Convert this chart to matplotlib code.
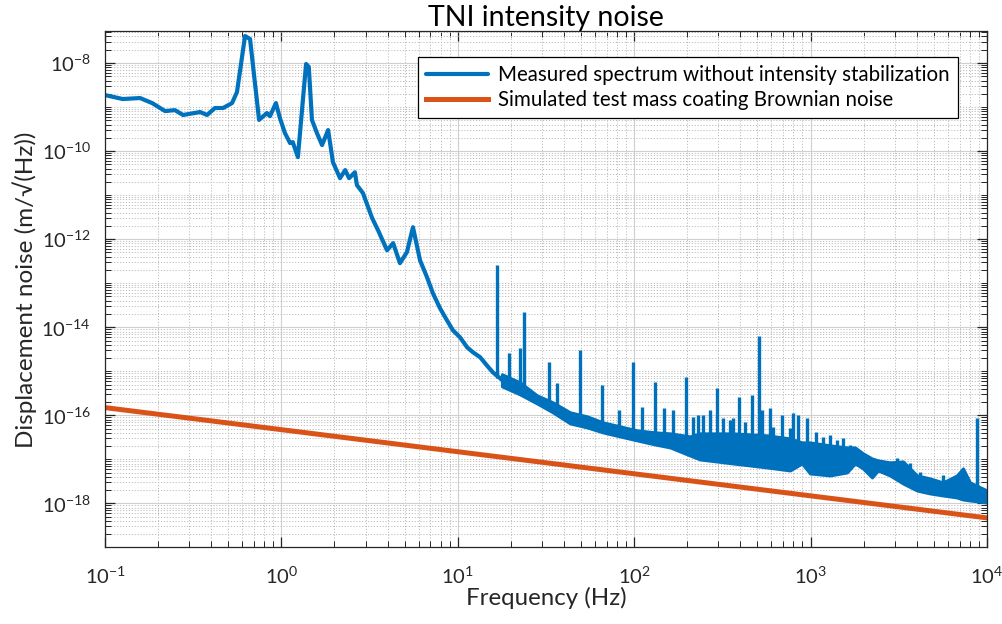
import numpy as np
import matplotlib
matplotlib.use("Agg")
import matplotlib.pyplot as plt
from matplotlib.ticker import LogLocator, NullFormatter

plt.rcParams['font.family'] = ['Lato', 'DejaVu Sans']
plt.rcParams['mathtext.fontset'] = 'custom'
plt.rcParams['mathtext.rm'] = 'Lato'

blue = '#0072BD'
orange = '#D95319'
axcol = '#262626'

# measured spectrum, low frequency part (Hz, m/sqrt(Hz))
freq = [0.1, 0.126, 0.158, 0.185, 0.219, 0.249, 0.277, 0.346, 0.379, 0.42,
        0.467, 0.525, 0.56, 0.622, 0.664, 0.747, 0.828, 0.861, 0.931, 0.981,
        1.047, 1.12, 1.16, 1.24, 1.38, 1.43, 1.49, 1.59, 1.70, 1.84,
        1.96, 2.15, 2.30, 2.42, 2.61, 2.68, 2.90, 3.27, 3.53, 3.97,
        4.30, 4.70, 5.15, 5.57, 6.11, 6.69, 7.23, 7.93, 8.68, 9.39,
        10.3, 11.3, 12.2, 13.4, 14.6, 15.8, 17.8]
noise = [1.87e-9, 1.52e-9, 1.60e-9, 1.23e-9, 8.1e-10, 8.5e-10, 6.6e-10, 7.7e-10, 6.6e-10, 9.5e-10,
         9.5e-10, 1.23e-9, 2.19e-9, 4.1e-8, 3.5e-8, 5.1e-10, 7.3e-10, 6.2e-10, 1.23e-9, 5.6e-10,
         2.57e-10, 1.52e-10, 1.60e-10, 7.3e-11, 9.5e-9, 8.1e-9, 5.1e-10, 2.57e-10, 1.37e-10, 3.0e-10,
         5.6e-11, 2.43e-11, 3.7e-11, 2.43e-11, 3.3e-11, 1.69e-11, 1.11e-11, 3.0e-12, 1.60e-12, 5.6e-13,
         8.1e-13, 2.85e-13, 5.1e-13, 1.87e-12, 3.3e-13, 1.37e-13, 5.9e-14, 2.70e-14, 1.44e-14, 8.5e-15,
         5.9e-15, 3.5e-15, 2.70e-15, 2.08e-15, 1.37e-15, 9.5e-16, 6.4e-16]

# above ~18 Hz the trace is a dense band: upper and lower envelope
band_f = [17.8, 22.5, 28.1, 34.6, 43.3, 54.0, 66.5, 83.1, 104, 131,
          160, 207, 236, 363, 566, 764, 894, 992, 1288, 1608,
          1785, 1982, 2229, 2411, 2818, 3340, 4012, 4752, 5630, 6761,
          7310, 8010, 10000]
band_hi = [8.55e-16, 5.62e-16, 2.85e-16, 1.97e-16, 1.17e-16, 9.5e-17, 6.93e-17, 5.62e-17, 4.56e-17, 4.11e-17,
           3.9e-17, 3.33e-17, 3.9e-17, 3.9e-17, 3.51e-17, 3.0e-17, 2.43e-17, 2.43e-17, 2.08e-17, 1.87e-17,
           1.87e-17, 1.37e-17, 1.05e-17, 9.5e-18, 8.55e-18, 9.0e-18, 4.33e-18, 3.7e-18, 3.0e-18, 4.33e-18,
           6.24e-18, 3.0e-18, 1.97e-18]
band_lo = [4.56e-16, 3.0e-16, 1.87e-16, 1.17e-16, 6.58e-17, 5.33e-17, 4.11e-17, 3.33e-17, 2.70e-17, 2.19e-17,
           1.87e-17, 1.23e-17, 1.0e-17, 8.1e-18, 6.58e-18, 5.62e-18, 8.1e-18, 4.81e-18, 4.33e-18, 5.07e-18,
           8.1e-18, 6.24e-18, 3.9e-18, 5.62e-18, 4.33e-18, 2.85e-18, 1.97e-18, 1.69e-18, 1.52e-18, 1.37e-18,
           1.23e-18, 1.17e-18, 1.05e-18]

# narrow spectral lines (Hz, base, peak)
spike_f = [16.7, 19.5, 22.5, 23.7, 32.9, 36.5, 49.3, 65.6, 82.0, 98.4,
           111, 131, 148, 166, 197, 215, 230, 245, 269, 294,
           319, 349, 363, 393, 425, 466, 510, 530, 589, 612,
           689, 764, 795, 848, 954, 1073, 1176, 1288, 1412, 1527,
           1673, 2258, 3090, 3660, 4170, 5630, 8780]
spike_lo = [7.0e-16, 4.8e-16, 3.6e-16, 3.2e-16, 1.5e-16, 1.2e-16, 7.0e-17, 5.0e-17, 4.0e-17, 3.0e-17,
            2.8e-17, 2.5e-17, 2.2e-17, 2.0e-17, 1.6e-17, 1.2e-17, 1.2e-17, 1.2e-17, 1.2e-17, 1.2e-17,
            1.2e-17, 1.2e-17, 1.2e-17, 1.2e-17, 1.2e-17, 1.2e-17, 1.2e-17, 1.2e-17, 1.2e-17, 8.0e-18,
            8.0e-18, 8.0e-18, 8.0e-18, 8.0e-18, 8.0e-18, 6.0e-18, 6.0e-18, 6.0e-18, 6.0e-18, 6.0e-18,
            6.0e-18, 5.0e-18, 4.0e-18, 3.0e-18, 2.5e-18, 2.0e-18, 1.5e-18]
spike_hi = [2.57e-13, 2.56e-15, 3.33e-15, 2.19e-14, 1.60e-15, 5.3e-16, 3.0e-15, 4.8e-16, 1.30e-16, 1.60e-15,
            1.52e-16, 5.6e-16, 1.44e-16, 1.30e-16, 7.3e-16, 9.0e-17, 1.0e-16, 1.0e-16, 1.30e-16, 4.1e-16,
            8.55e-17, 7.7e-17, 8.55e-17, 2.56e-16, 6.9e-17, 2.85e-16, 6.2e-15, 1.30e-16, 1.44e-16, 5.33e-17,
            1.0e-16, 5.07e-17, 1.11e-16, 1.0e-16, 8.55e-17, 4.11e-17, 3.16e-17, 3.51e-17, 2.70e-17, 3.0e-17,
            2.08e-17, 9.5e-18, 1.05e-17, 8.1e-18, 5.07e-18, 4.33e-18, 8.55e-17]

# simulated coating Brownian noise
sim_f = [0.1, 10000]
sim_noise = [1.5e-16, 4.7e-19]

fig = plt.figure(figsize=(10.03, 6.24), dpi=100)
ax = fig.add_axes([0.1047, 0.1226, 0.8793, 0.827])

ax.plot(freq, noise, color=blue, lw=3.0, solid_joinstyle='round', solid_capstyle='round',
        label='Measured spectrum without intensity stabilization')
ax.fill_between(band_f, band_lo, band_hi, color=blue, lw=2.2, edgecolor=blue)
ax.vlines(spike_f, spike_lo, spike_hi, color=blue, lw=2.4)
ax.plot(sim_f, sim_noise, color=orange, lw=3.6,
        label='Simulated test mass coating Brownian noise')

ax.set_xscale('log')
ax.set_yscale('log')
ax.set_xlim(0.1, 1e4)
ax.set_ylim(1e-19, 5.2e-8)

ax.xaxis.set_major_locator(LogLocator(base=10, numticks=10))
ax.xaxis.set_minor_locator(LogLocator(base=10, subs=np.arange(2, 10), numticks=20))
ax.yaxis.set_major_locator(LogLocator(base=100, numticks=20))
ax.yaxis.set_minor_locator(LogLocator(base=10, subs=np.arange(1, 10), numticks=40))
ax.xaxis.set_minor_formatter(NullFormatter())
ax.yaxis.set_minor_formatter(NullFormatter())

ax.grid(True, which='major', color='#d0d0d0', lw=0.8, ls='-')
ax.grid(True, which='minor', color='#bdbdbd', lw=0.7, ls=(0, (1.2, 1.8)))
ax.set_axisbelow(True)

ax.tick_params(which='both', direction='in', top=True, right=True, colors=axcol,
               labelsize=14.5, pad=10)
ax.tick_params(axis='x', which='major', pad=13)
ax.tick_params(which='major', length=7, width=0.9)
ax.tick_params(which='minor', length=4, width=0.7)
for s in ax.spines.values():
    s.set_color(axcol)
    s.set_linewidth(0.9)

ax.set_xlabel('Frequency (Hz)', fontsize=17.3, color=axcol, labelpad=0)
ax.set_ylabel('Displacement noise (m/\u221a(Hz))', fontsize=17.5, color=axcol, labelpad=3)
ax.set_title('TNI intensity noise', fontsize=20.5, color='black', pad=3)

leg = ax.legend(loc='upper right', bbox_to_anchor=(0.967, 0.951), borderaxespad=0,
                fontsize=14.8, frameon=True, fancybox=False, edgecolor='black', framealpha=1,
                handlelength=3.0, borderpad=0.4, labelspacing=0.25, handletextpad=0.5)
leg.get_frame().set_linewidth(0.9)

fig.savefig('out.png', dpi=100)
